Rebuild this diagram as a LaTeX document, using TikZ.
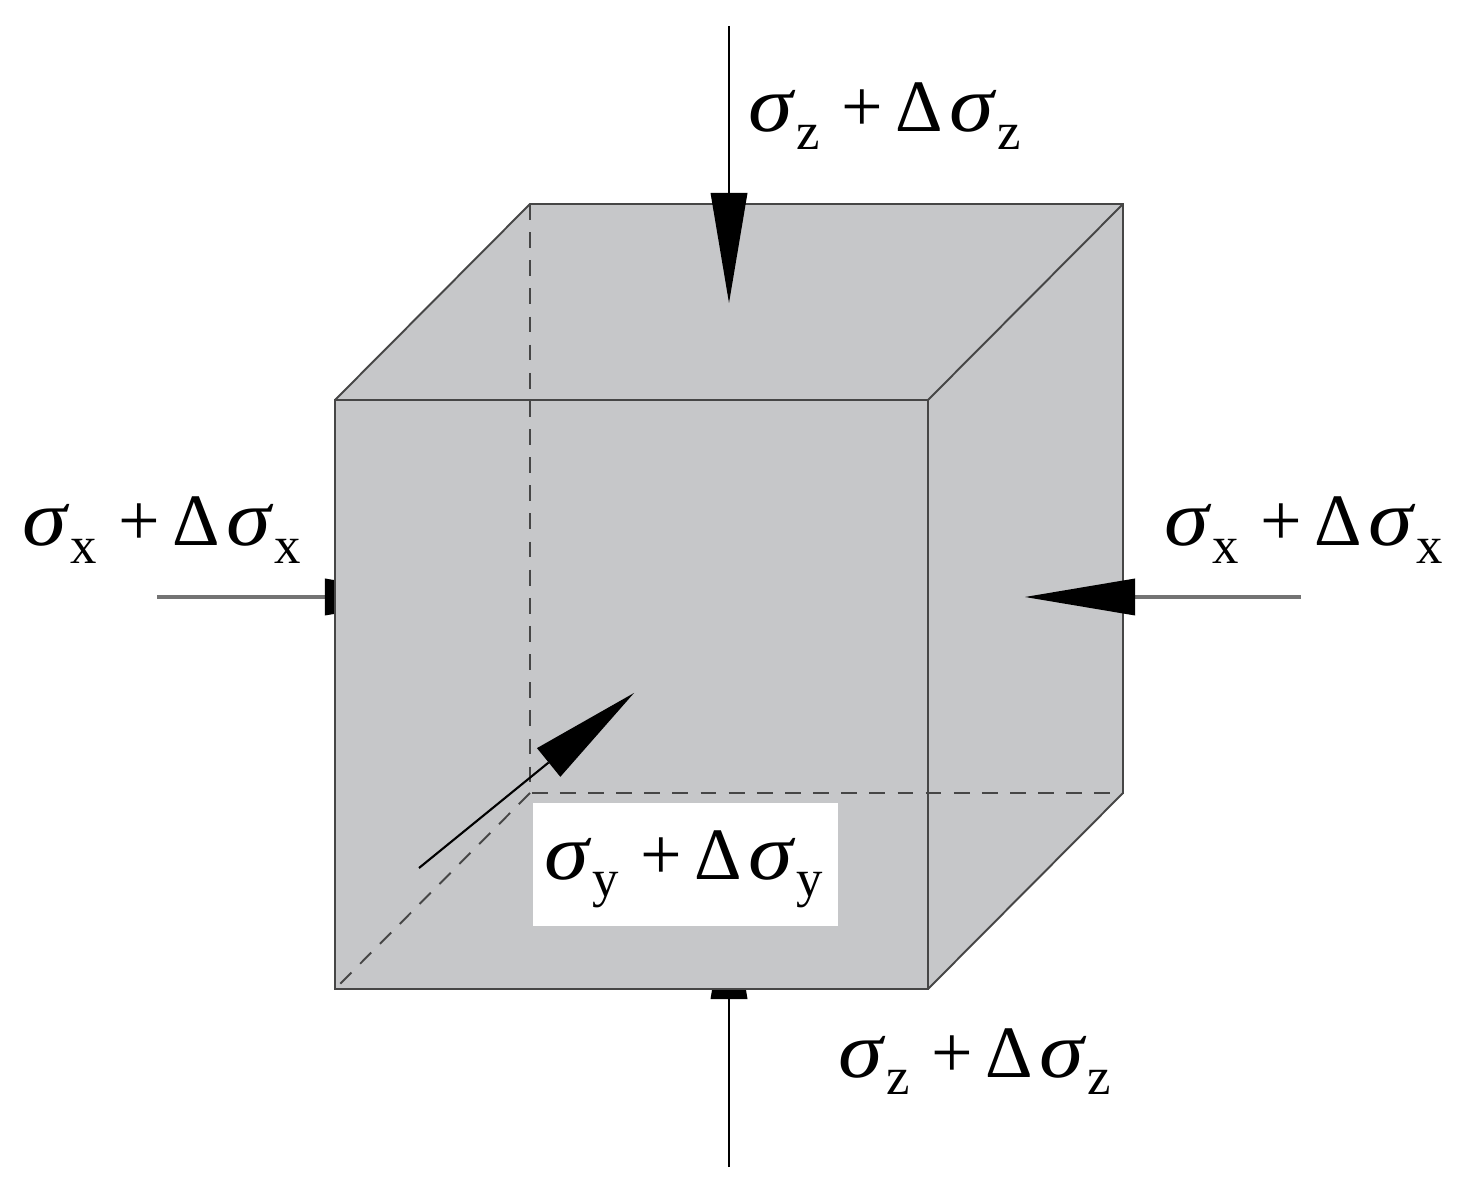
\documentclass[tikz,border=0pt]{standalone}
\usepackage{xcolor}
\usepackage{graphicx}
\usepackage{fontspec}
\setmainfont{Liberation Serif}
\usepackage{tikz}
\usetikzlibrary{arrows.meta}

\definecolor{cubegray}{RGB}{198,199,201}
\definecolor{edgegray}{RGB}{70,70,70}
\newcommand{\stresssym}{\scalebox{1.22}[1.08]{\itshape σ}}
\newcommand{\stresssub}[1]{\raisebox{-5pt}{\fontsize{15}{15}\selectfont #1}}
\newcommand{\stresslabel}[1]{\stresssym\kern 1pt\stresssub{#1}\kern 6pt+\kern 3.5pt Δ\kern 2pt\stresssym\kern 1pt\stresssub{#1}}

\tikzset{
	loadarrow/.style={draw=black, line width=0.6pt, -{Triangle[length=1.1cm,width=0.37cm,fill=black,line width=0pt]}},
	sidearrow/.style={loadarrow, draw=black!55, line width=1pt},
	cubeedge/.style={draw=edgegray, line width=0.55pt},
	hiddenedge/.style={draw=edgegray, line width=0.55pt, dash pattern=on 4.5pt off 3.5pt},
	stress/.style={inner sep=0pt, font=\fontsize{21}{24}\selectfont, anchor=base}
}

\begin{document}
\begin{tikzpicture}[x=0.01cm,y=-0.01cm]
	\useasboundingbox (0,0) rectangle (1458,1192);

	\coordinate (frontNW) at (335,400);
	\coordinate (frontNE) at (928,400);
	\coordinate (frontSE) at (928,989);
	\coordinate (frontSW) at (335,989);
	\coordinate (backNW) at (530,204);
	\coordinate (backNE) at (1123,204);
	\coordinate (backSE) at (1123,793);
	\coordinate (backSW) at (530,793);

	% arrows that end behind the cube
	\coordinate (leftStart) at (157,597);
	\coordinate (leftTip) at (435,597);
	\coordinate (bottomStart) at (729,1167);
	\coordinate (bottomTip) at (729,889);
	\draw [sidearrow] (leftStart) -- (leftTip);
	\draw [loadarrow] (bottomStart) -- (bottomTip);

	\fill [cubegray] (frontNW) -- (backNW) -- (backNE) -- (backSE) -- (frontSE) -- (frontSW) -- cycle;

	\draw [hiddenedge] (backNW) -- (backSW) -- (backSE);
	\draw [hiddenedge] (backSW) -- (frontSW);

	\draw [cubeedge] (frontNW) rectangle (frontSE);
	\draw [cubeedge] (frontNW) -- (backNW) -- (backNE) -- (backSE) -- (frontSE);
	\draw [cubeedge] (frontNE) -- (backNE);

	% arrows in front of the cube
	\coordinate (topStart) at (729,26);
	\coordinate (topTip) at (729,303);
	\coordinate (rightStart) at (1301,597);
	\coordinate (rightTip) at (1025,597);
	\coordinate (depthStart) at (419,868);
	\coordinate (depthTip) at (634,693);
	\draw [loadarrow] (topStart) -- (topTip);
	\draw [sidearrow] (rightStart) -- (rightTip);
	\draw [loadarrow] (depthStart) -- (depthTip);

	\node [fill=white, minimum width=3.05cm, minimum height=1.23cm, inner sep=0pt] (depthBox) at (685.5,864.5) {};

	\node [stress] (topLabel) at (885,132) {\stresslabel{z}};
	\node [stress] (leftLabel) at (162,546) {\stresslabel{x}};
	\node [stress] (rightLabel) at (1304,546) {\stresslabel{x}};
	\node [stress] (depthLabel) at (684,879) {\stresslabel{y}};
	\node [stress] (bottomLabel) at (975,1077) {\stresslabel{z}};
\end{tikzpicture}
\end{document}
